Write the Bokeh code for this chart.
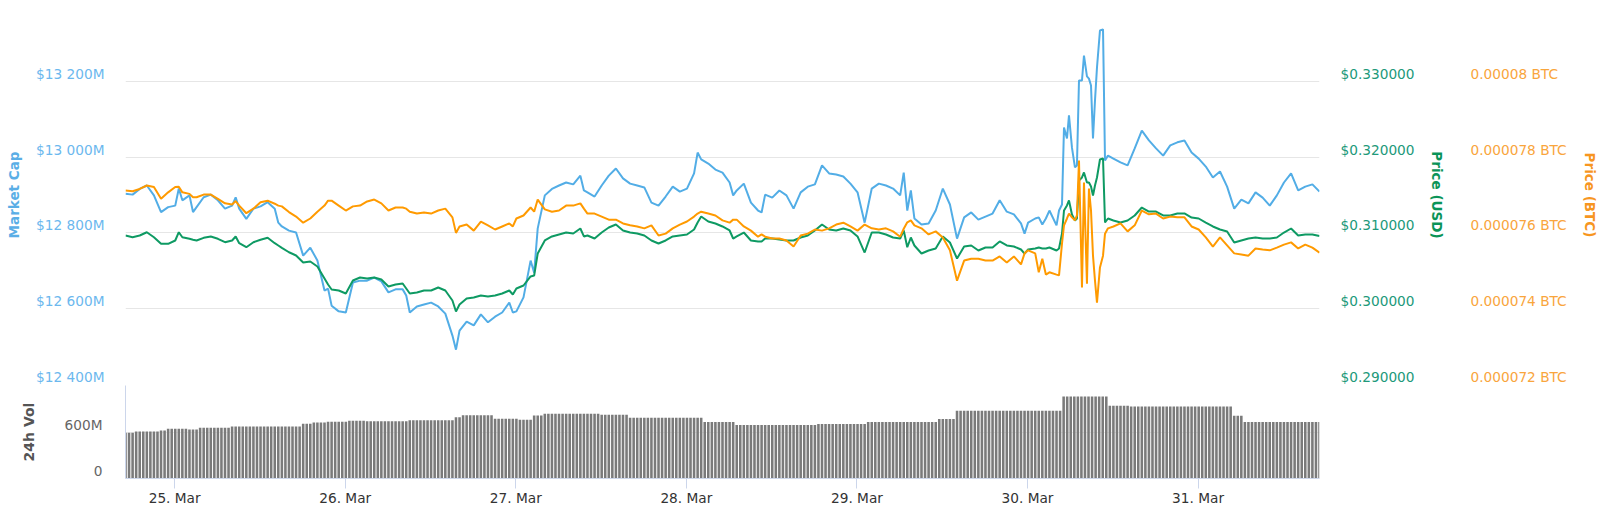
import pandas as pd
from bokeh.plotting import figure
from bokeh.models import Range1d, LinearAxis, FixedTicker
from bokeh.layouts import column
from bokeh.embed import file_html
from bokeh.resources import INLINE

# ---------------- data ----------------
START = "2019-03-24 17:05"
FINE_HOURS = [131.35, 131.77, 132.05, 132.47, 132.75, 133.17, 133.59, 133.87, 134.16, 134.58,
              134.86, 135.28, 135.56, 135.85, 136.13, 136.41, 136.69, 137.11, 137.54, 137.82, 138.24]
HOURS = list(range(0, 132)) + FINE_HOURS + list(range(139, 169))

MCAP = [  # market cap, millions USD
    12903, 12901, 12916, 12925, 12899, 12855, 12868, 12872, 12886, 12899,
    12868, 12894, 12901, 12886, 12864, 12872, 12864, 12837, 12864, 12870,
    12881, 12864, 12817, 12806, 12801, 12740, 12761, 12727, 12648, 12608,
    12593, 12590, 12669, 12674, 12674, 12682, 12672, 12643, 12651, 12651,
    12590, 12606, 12611, 12616, 12606, 12587, 12529, 12542, 12566, 12556,
    12585, 12564, 12579, 12590, 12616, 12593, 12630, 12727, 12812, 12899,
    12916, 12925, 12933, 12928, 12951, 12907, 12896, 12925, 12951, 12970,
    12944, 12930, 12925, 12920, 12880, 12872, 12896, 12922, 12909, 12917,
    12957, 12994, 12983, 12967, 12959, 12933, 12912, 12930, 12880, 12859,
    12901, 12893, 12912, 12899, 12864, 12907, 12922, 12928, 12978, 12957,
    12954, 12949, 12930, 12907, 12827, 12917, 12930, 12925, 12917, 12899,
    12859, 12838, 12822, 12825, 12859, 12917, 12875, 12785, 12841, 12854,
    12835, 12843, 12851, 12886, 12856, 12849, 12825, 12827, 12838, 12822,
    12859, 12820,
    12859, 12875, 13078, 13049, 13110, 13025, 12973, 12978, 13202, 13202,
    13268, 13213, 13207, 13189, 13049, 13149, 13236, 13334, 13337, 12991, 13004,
    12996, 12986, 12978, 13023, 13070, 13044, 13023, 13004, 13031, 13039,
    13044, 13012, 12996, 12975, 12946, 12962, 12922, 12864, 12888, 12878,
    12907, 12893, 12872, 12899, 12933, 12957, 12912, 12922, 12928, 12909]

USD = [  # price in USD
    0.30966, 0.30943, 0.30966, 0.31009, 0.30943, 0.30856, 0.30856, 0.30900, 0.30943, 0.30922,
    0.30900, 0.30935, 0.30953, 0.30922, 0.30877, 0.30900, 0.30864, 0.30811, 0.30877, 0.30909,
    0.30935, 0.30864, 0.30803, 0.30745, 0.30702, 0.30610, 0.30623, 0.30557, 0.30398, 0.30253,
    0.30240, 0.30201, 0.30372, 0.30412, 0.30398, 0.30412, 0.30385, 0.30293, 0.30319, 0.30333,
    0.30201, 0.30214, 0.30240, 0.30240, 0.30280, 0.30240, 0.30108, 0.30055, 0.30135, 0.30148,
    0.30174, 0.30161, 0.30174, 0.30201, 0.30240, 0.30267, 0.30306, 0.30425, 0.30728, 0.30900,
    0.30953, 0.30979, 0.31005, 0.30992, 0.31058, 0.30966, 0.30926, 0.31005, 0.31071, 0.31111,
    0.31032, 0.31005, 0.30992, 0.30966, 0.30900, 0.30860, 0.30900, 0.30953, 0.30966, 0.30979,
    0.31045, 0.31216, 0.31150, 0.31124, 0.31085, 0.31032, 0.30953, 0.31005, 0.30900, 0.30887,
    0.30926, 0.30926, 0.30913, 0.30900, 0.30900, 0.30939, 0.30966, 0.31032, 0.31111, 0.31045,
    0.31032, 0.31058, 0.31032, 0.30953, 0.30741, 0.31005, 0.31005, 0.30979, 0.30939, 0.30926,
    0.30811, 0.30834, 0.30728, 0.30768, 0.30794, 0.30953, 0.30873, 0.30662, 0.30821, 0.30834,
    0.30768, 0.30807, 0.30807, 0.30887, 0.30834, 0.30821, 0.30781, 0.30781, 0.30794, 0.30794,
    0.30807, 0.30768,
    0.30794, 0.30992, 0.31296, 0.31362, 0.31428, 0.31243, 0.31164, 0.31190, 0.31691, 0.31731,
    0.31797, 0.31665, 0.31665, 0.31612, 0.31494, 0.31625, 0.31731, 0.31968, 0.31982, 0.31137, 0.31190,
    0.31164, 0.31137, 0.31164, 0.31230, 0.31335, 0.31282, 0.31282, 0.31230, 0.31230, 0.31256,
    0.31256, 0.31203, 0.31190, 0.31137, 0.31085, 0.31045, 0.31019, 0.30873, 0.30900, 0.30926,
    0.30939, 0.30926, 0.30926, 0.30939, 0.31005, 0.31058, 0.30966, 0.30979, 0.30979, 0.30959]

BTC_MICRO = [  # price in micro-BTC (1e-6 BTC)
    77.12, 77.10, 77.16, 77.25, 77.21, 76.90, 77.07, 77.21, 77.07, 77.03,
    76.94, 77.01, 77.01, 76.90, 76.78, 76.75, 76.72, 76.52, 76.64, 76.81,
    76.85, 76.77, 76.70, 76.55, 76.43, 76.27, 76.38, 76.56, 76.72, 76.85,
    76.72, 76.59, 76.70, 76.72, 76.83, 76.88, 76.78, 76.59, 76.67, 76.67,
    76.56, 76.51, 76.54, 76.51, 76.59, 76.64, 76.41, 76.17, 76.22, 76.06,
    76.30, 76.20, 76.09, 76.17, 76.25, 76.38, 76.46, 76.67, 76.88, 76.62,
    76.56, 76.59, 76.72, 76.72, 76.78, 76.51, 76.51, 76.43, 76.35, 76.35,
    76.25, 76.20, 76.17, 76.12, 76.20, 75.93, 75.98, 76.12, 76.22, 76.30,
    76.43, 76.56, 76.51, 76.46, 76.33, 76.27, 76.35, 76.17, 76.06, 75.90,
    75.90, 75.85, 75.85, 75.80, 75.64, 75.93, 75.98, 76.09, 76.06, 76.12,
    76.22, 76.27, 76.17, 76.06, 76.22, 76.12, 76.09, 76.12, 76.04, 75.90,
    76.28, 76.20, 76.12, 75.96, 76.04, 75.88, 75.54, 74.74, 75.27, 75.32,
    75.32, 75.27, 75.27, 75.38, 75.22, 75.38, 75.17, 75.54, 75.46, 75.32,
    74.96, 74.90,
    74.88, 75.72, 76.20, 76.38, 76.51, 76.41, 76.33, 76.46, 77.91, 74.56,
    77.33, 74.66, 77.17, 76.59, 75.40, 74.74, 74.16, 75.09, 75.40, 75.98, 76.12,
    76.17, 76.25, 76.04, 76.20, 76.59, 76.49, 76.51, 76.38, 76.43, 76.41,
    76.41, 76.17, 76.09, 75.88, 75.64, 75.88, 75.67, 75.46, 75.43, 75.40,
    75.59, 75.56, 75.54, 75.61, 75.69, 75.75, 75.59, 75.69, 75.61, 75.48]

# extra half-hour readings where the lines spike between hourly points
EXTRA_HOURS = [7.5, 9.5, 15.5, 21.5, 28.5, 39.5, 46.5, 54.5, 57.5, 64.5,
               80.5, 85.5, 89.5, 109.5, 110.5, 126.5, 128.5, 129.5]
EXTRA_MCAP = [12917, 12855, 12894, 12827, 12653, 12635, 12492, 12590, 12695, 12912,
              13012, 12899, 12854, 12959, 12912, 12798, 12841, 12838]
EXTRA_USD = [0.31009, 0.30910, 0.30953, 0.30834, 0.30319, 0.30267, 0.29963, 0.30187, 0.30438, 0.30953,
             0.31137, 0.30926, 0.30887, 0.31032, 0.30939, 0.30727, 0.30807, 0.30794]
EXTRA_BTC_MICRO = [77.22, 76.94, 76.84, 76.72, 76.85, 76.64, 76.00, 76.17, 76.56, 76.64,
                   76.51, 76.35, 75.96, 76.11, 76.33, 75.46, 74.96, 74.90]

VOL = [  # 24h volume, millions USD, one bar every 30 minutes from START
    590, 590, 590, 606, 606, 606, 606, 606, 606, 606,
    619, 619, 641, 641, 641, 641, 641, 641, 632, 632,
    632, 654, 654, 654, 654, 654, 654, 654, 654, 654,
    671, 671, 671, 671, 671, 671, 671, 671, 671, 671,
    671, 671, 671, 671, 671, 671, 671, 671, 671, 671,
    706, 706, 706, 722, 722, 722, 722, 731, 731, 731,
    731, 731, 731, 744, 744, 744, 744, 744, 739, 739,
    739, 739, 739, 739, 739, 739, 739, 739, 739, 739,
    752, 752, 752, 752, 752, 752, 752, 752, 752, 752,
    752, 752, 752, 791, 791, 817, 817, 817, 817, 817,
    817, 817, 817, 817, 770, 770, 770, 770, 770, 770,
    770, 757, 757, 757, 757, 813, 813, 813, 835, 835,
    835, 835, 835, 835, 835, 835, 835, 835, 835, 835,
    835, 835, 835, 835, 822, 822, 822, 822, 822, 822,
    822, 822, 783, 783, 783, 783, 783, 783, 783, 783,
    783, 783, 783, 783, 783, 783, 783, 783, 783, 783,
    783, 783, 783, 730, 730, 730, 730, 730, 730, 730,
    730, 730, 690, 690, 690, 690, 690, 690, 690, 690,
    690, 690, 690, 690, 690, 690, 690, 690, 690, 690,
    690, 690, 690, 690, 690, 703, 703, 703, 703, 703,
    703, 703, 703, 703, 703, 703, 703, 703, 703, 730,
    730, 730, 730, 730, 730, 730, 730, 730, 730, 730,
    730, 730, 730, 730, 730, 730, 730, 730, 730, 769,
    769, 769, 769, 769, 875, 875, 875, 875, 875, 875,
    875, 875, 875, 875, 875, 875, 875, 875, 875, 875,
    875, 875, 875, 875, 875, 875, 875, 875, 875, 875,
    875, 875, 875, 875, 1059, 1059, 1059, 1059, 1059, 1059,
    1059, 1059, 1059, 1059, 1059, 1059, 1059, 940, 940, 940,
    940, 940, 940, 928, 928, 928, 928, 928, 928, 928,
    928, 928, 928, 928, 928, 928, 928, 928, 928, 928,
    928, 928, 928, 928, 928, 928, 928, 928, 928, 928,
    928, 928, 809, 809, 809, 730, 730, 730, 730, 730,
    730, 730, 730, 730, 730, 730, 730, 730, 730, 730,
    730, 730, 730, 730, 730, 730, 730]

DAY_TICKS = ["2019-03-25", "2019-03-26", "2019-03-27", "2019-03-28",
             "2019-03-29", "2019-03-30", "2019-03-31"]
DAY_LABELS = ["25. Mar", "26. Mar", "27. Mar", "28. Mar", "29. Mar", "30. Mar", "31. Mar"]
MCAP_GRID = [12400, 12600, 12800, 13000, 13200, 13400]
MCAP_TICKS = [12400, 12600, 12800, 13000, 13200]
MCAP_LABELS = ["$12 400M", "$12 600M", "$12 800M", "$13 000M", "$13 200M"]
USD_TICKS = [0.29, 0.30, 0.31, 0.32, 0.33]
USD_LABELS = ["$0.290000", "$0.300000", "$0.310000", "$0.320000", "$0.330000"]
BTC_TICKS = [0.000072, 0.000074, 0.000076, 0.000078, 0.00008]
BTC_LABELS = ["0.000072 BTC", "0.000074 BTC", "0.000076 BTC", "0.000078 BTC", "0.00008 BTC"]
VOL_TICKS = [0, 600]
VOL_LABELS = ["0", "600M"]

# ---------------- helpers ----------------
FONT = "DejaVu Sans"
C_MCAP, C_USD, C_BTC = "#52ade6", "#0e9a63", "#ff9a00"
C_MCAP_TXT, C_USD_TXT, C_BTC_TXT = "#6cb8ee", "#21997a", "#f9a53c"

def to_ms(ts):
    return pd.Timestamp(ts).value // 10**6

rows = sorted(zip(HOURS + EXTRA_HOURS, MCAP + EXTRA_MCAP, USD + EXTRA_USD,
                  BTC_MICRO + EXTRA_BTC_MICRO))
hrs, mcap, usd, btc_micro = (list(c) for c in zip(*rows))

t0 = to_ms(START)
HOUR_MS = 3600 * 1000
xs = [t0 + h * HOUR_MS for h in hrs]
vol_x = [t0 + i * HOUR_MS / 2 for i in range(len(VOL))]
btc = [b * 1e-6 for b in btc_micro]
x_start, x_end = t0, t0 + 168 * HOUR_MS

FRAME_H = 379
SHIFT_PX = 7.5

def style_axis(ax, color, size="13.7px"):
    ax.major_tick_line_color = None
    ax.minor_tick_line_color = None
    ax.major_tick_out = 0
    ax.major_tick_in = 0
    ax.minor_tick_out = 0
    ax.minor_tick_in = 0
    ax.axis_line_color = None
    ax.major_label_text_font = FONT
    ax.major_label_text_font_size = size
    ax.major_label_text_color = color
    ax.axis_label_text_font = FONT
    ax.axis_label_text_font_style = "bold"
    ax.axis_label_text_font_size = "13.5px"

# ---------------- main pane ----------------
p = figure(width=1600, height=385, output_backend="svg", toolbar_location=None,
           x_range=Range1d(x_start, x_end), y_range=Range1d(12400, 13400),
           min_border_left=125, min_border_right=281, min_border_top=5, min_border_bottom=1,
           x_axis_location=None, background_fill_color="white", border_fill_color="white")
p.outline_line_color = None
p.xgrid.visible = False
p.ygrid.ticker = FixedTicker(ticks=MCAP_GRID)
p.ygrid.grid_line_color = "#e6e6e6"
p.ygrid.grid_line_width = 1

mc_shift = SHIFT_PX * 1000 / FRAME_H
mc_ticks = [t + mc_shift for t in MCAP_TICKS]
ax = p.yaxis[0]
ax.ticker = FixedTicker(ticks=mc_ticks)
ax.major_label_overrides = dict(zip(mc_ticks, MCAP_LABELS))
style_axis(ax, C_MCAP_TXT)
ax.major_label_standoff = 21
ax.axis_label = "Market Cap"
ax.axis_label_standoff = 11
ax.axis_label_text_color = "#5aaee6"

p.extra_y_ranges = {"usd": Range1d(0.29, 0.34), "btc": Range1d(0.000072, 0.000082)}

usd_shift = SHIFT_PX * 0.05 / FRAME_H
usd_ticks = [t + usd_shift for t in USD_TICKS]
ax_usd = LinearAxis(y_range_name="usd", ticker=FixedTicker(ticks=usd_ticks),
                    major_label_overrides=dict(zip(usd_ticks, USD_LABELS)))
style_axis(ax_usd, C_USD_TXT)
ax_usd.major_label_standoff = 21
ax_usd.axis_label = "Price (USD)"
ax_usd.axis_label_standoff = 11
ax_usd.axis_label_text_color = "#0b9458"
p.add_layout(ax_usd, "right")

btc_shift = SHIFT_PX * 0.00001 / FRAME_H
btc_ticks = [t + btc_shift for t in BTC_TICKS]
ax_btc = LinearAxis(y_range_name="btc", ticker=FixedTicker(ticks=btc_ticks),
                    major_label_overrides=dict(zip(btc_ticks, BTC_LABELS)))
style_axis(ax_btc, C_BTC_TXT)
ax_btc.major_label_standoff = 23
ax_btc.axis_label = "Price (BTC)"
ax_btc.axis_label_standoff = 12
ax_btc.axis_label_text_color = "#f7961f"
p.add_layout(ax_btc, "right")

p.line(xs, mcap, line_color=C_MCAP, line_width=2)
p.line(xs, usd, line_color=C_USD, line_width=2, y_range_name="usd")
p.line(xs, btc, line_color=C_BTC, line_width=2, y_range_name="btc")

# ---------------- volume pane ----------------
v = figure(width=1600, height=131, output_backend="svg", toolbar_location=None,
           x_range=p.x_range, y_range=Range1d(0, 1200),
           min_border_left=125, min_border_right=281, min_border_top=0, min_border_bottom=38,
           background_fill_color="white", border_fill_color="white")
v.outline_line_color = None
v.xgrid.visible = False
v.ygrid.ticker = FixedTicker(ticks=VOL_TICKS)
v.ygrid.grid_line_color = "#ececec"

v.vbar(x=vol_x, top=VOL, width=HOUR_MS / 2 * 0.72, fill_color="#7a7a7a", line_color=None)

vol_shift = SHIFT_PX * 1200 / 93
vol_ticks = [t + vol_shift for t in VOL_TICKS]
vax = v.yaxis[0]
vax.ticker = FixedTicker(ticks=vol_ticks)
vax.major_label_overrides = dict(zip(vol_ticks, VOL_LABELS))
style_axis(vax, "#666666")
vax.axis_line_color = "#ccd6eb"
vax.major_label_standoff = 23
vax.axis_label = "24h Vol"
vax.axis_label_standoff = 25
vax.axis_label_text_font_size = "14px"
vax.axis_label_text_color = "#555555"

day_ms = [to_ms(d) for d in DAY_TICKS]
xax = v.xaxis[0]
xax.ticker = FixedTicker(ticks=day_ms)
xax.major_label_overrides = dict(zip(day_ms, DAY_LABELS))
xax.axis_line_color = "#ccd6eb"
xax.major_tick_line_color = "#ccd6eb"
xax.major_tick_out = 10
xax.major_tick_in = 0
xax.minor_tick_line_color = None
xax.major_label_standoff = 1
xax.major_label_text_font = FONT
xax.major_label_text_font_size = "13.7px"
xax.major_label_text_color = "#333333"

layout = column(p, v, spacing=0)
open("out.html", "w").write(file_html(layout, INLINE))
